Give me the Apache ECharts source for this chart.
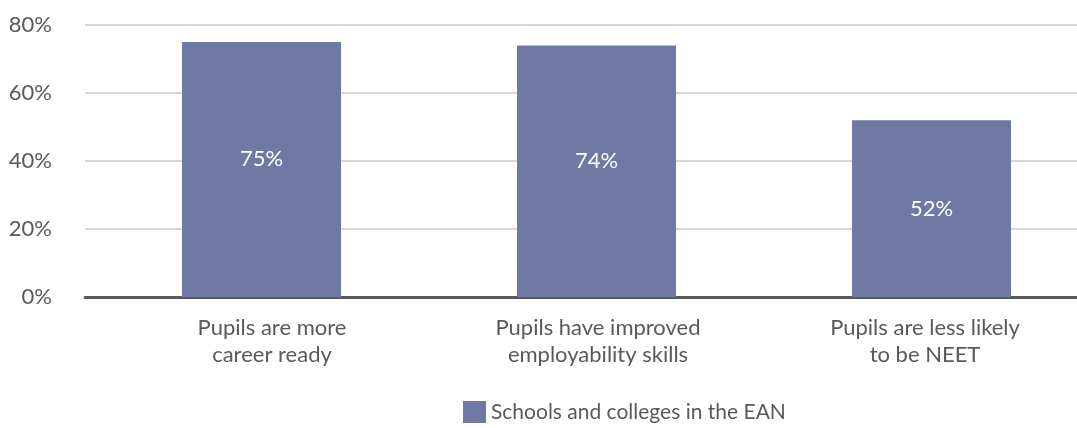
<!DOCTYPE html>
<html>
<head>
<meta charset="utf-8">
<script src="https://cdn.jsdelivr.net/npm/echarts@6/dist/echarts.min.js"></script>
<style>
  html, body { margin: 0; padding: 0; background: #ffffff; overflow: hidden; }
  #chart { width: 1099px; height: 428px; }
</style>
</head>
<body>
<div id="chart"></div>
<script>
// Outcomes reported by schools and colleges in the EAN (percent)
const categories = [
  'Pupils are more\ncareer ready',
  'Pupils have improved\nemployability skills',
  'Pupils are less likely\nto be NEET'
];
const seriesName = 'Schools and colleges in the EAN';
const values = [75, 74, 52];
const yTicks = [0, 20, 40, 60, 80];

const FONT = 'Lato, "Open Sans", sans-serif';
const TEXT = '#595959';
const BAR = '#6f79a3';

const chart = echarts.init(document.getElementById('chart'), null, { renderer: 'canvas' });

// small per-label nudges for the wrapped category names and value labels
const catPad = [[0, 0, 0, 21], [0, 0, 0, 3], [0, 13, 0, 0]];
const valShift = [-11, -10, 0];

chart.setOption({
  animation: false,
  backgroundColor: '#ffffff',
  grid: [
    { left: 85, right: 22, top: 25, bottom: 131 },
    { left: 94, width: 1005, top: 25, bottom: 131 }
  ],
  legend: {
    data: [seriesName],
    left: 463,
    top: 401,
    padding: 0,
    itemWidth: 23,
    itemHeight: 22,
    itemGap: 8,
    textStyle: { fontFamily: FONT, fontSize: 21, color: TEXT },
    icon: 'rect'
  },
  xAxis: [
    {
      gridIndex: 0, type: 'value', min: 0, max: 1,
      axisLine: { show: true, onZero: false, lineStyle: { color: '#595959', width: 3 } },
      axisTick: { show: false }, axisLabel: { show: false }, splitLine: { show: false }
    },
    {
      gridIndex: 1, type: 'category',
      data: categories.map((c, i) => ({ value: c, textStyle: { padding: catPad[i] } })),
      axisLine: { show: false }, axisTick: { show: false },
      axisLabel: {
        interval: 0, margin: 17,
        fontFamily: FONT, fontSize: 22, color: TEXT, lineHeight: 27, align: 'center'
      }
    }
  ],
  yAxis: [
    {
      gridIndex: 0, type: 'value', min: yTicks[0], max: yTicks[yTicks.length - 1], interval: 20,
      axisLine: { show: false }, axisTick: { show: false },
      axisLabel: {
        margin: 33, fontFamily: FONT, fontSize: 22, color: TEXT,
        formatter: v => v + '%'
      },
      splitLine: { show: true, lineStyle: { color: '#c8c8c8', width: 1.5 } }
    },
    {
      gridIndex: 1, type: 'value', min: yTicks[0], max: yTicks[yTicks.length - 1], interval: 20,
      show: false, splitLine: { show: false }
    }
  ],
  series: [
    {
      name: seriesName,
      type: 'bar',
      xAxisIndex: 1, yAxisIndex: 1,
      barWidth: 159,
      itemStyle: { color: BAR },
      data: values.map((v, i) => ({
        value: v,
        label: { offset: [0, valShift[i]] }
      })),
      label: {
        show: true, position: 'inside',
        fontFamily: FONT, fontSize: 22, color: '#ffffff',
        formatter: p => p.value + '%'
      }
    }
  ]
});
</script>
</body>
</html>
